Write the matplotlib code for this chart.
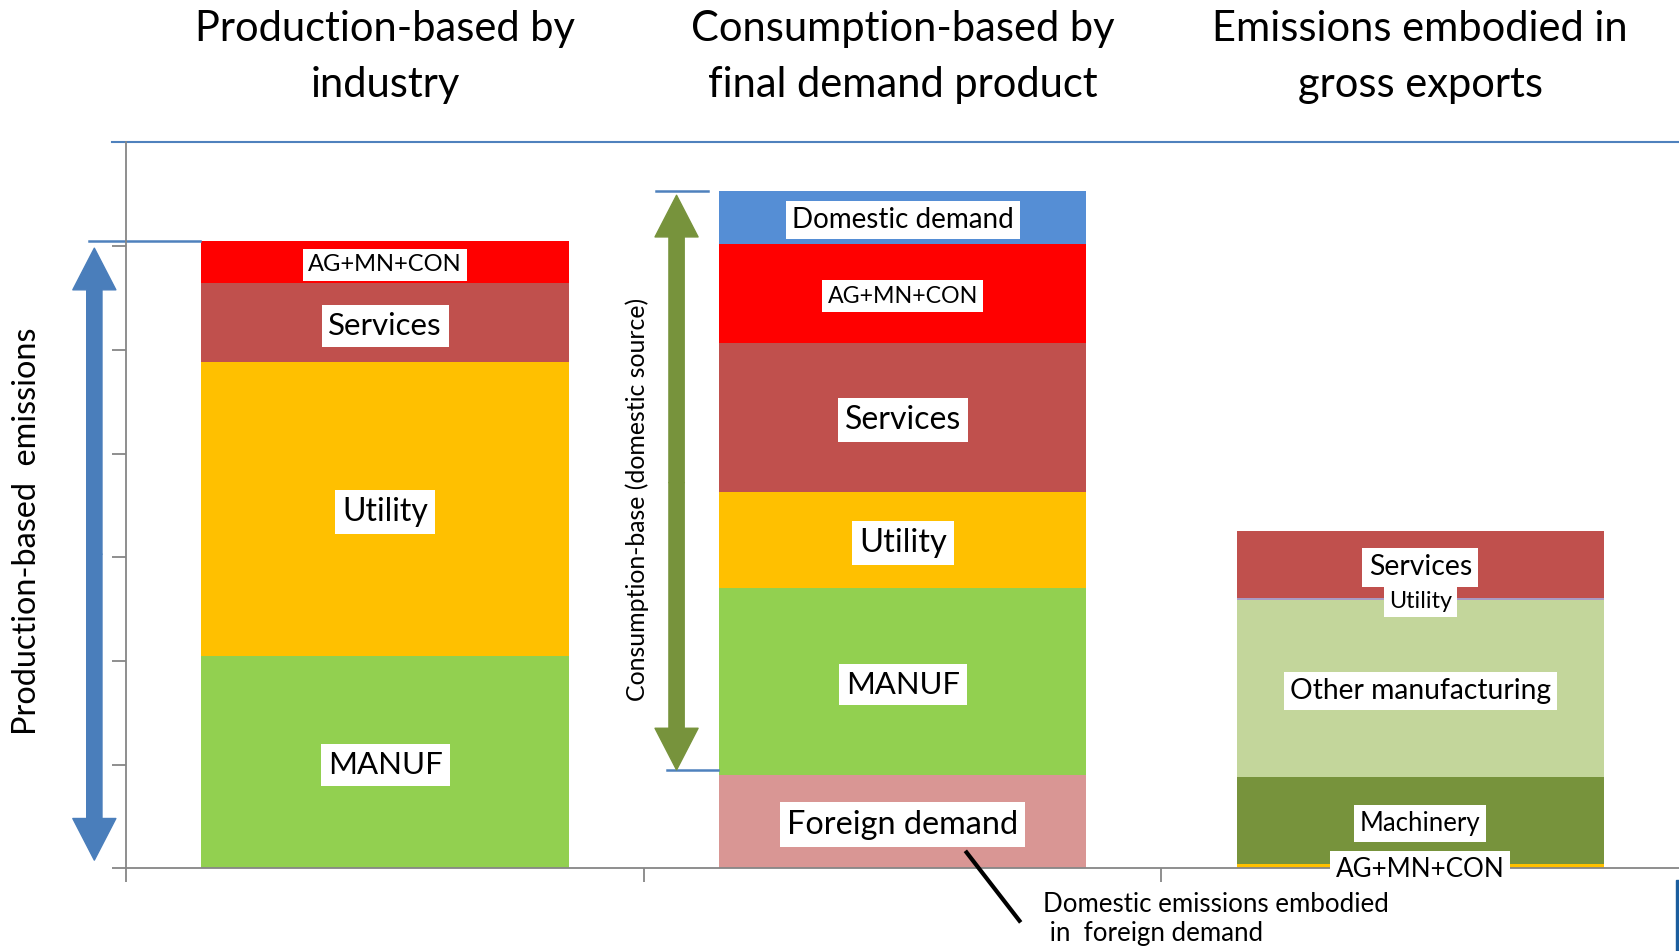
#!/usr/bin/env python3
## stacked emission breakdowns: production, consumption, exports
import matplotlib.pyplot as plt
import matplotlib.transforms as mtransforms
from matplotlib.patches import FancyArrowPatch, ArrowStyle, Rectangle

plt.rcParams['font.family'] = ['Lato', 'DejaVu Sans']

## data - segment heights listed bottom to top
titles = ['Production-based by\nindustry',
          'Consumption-based by\nfinal demand product',
          'Emissions embodied in\ngross exports']

prod_labels = ['MANUF', 'Utility', 'Services', 'AG+MN+CON']
prod_values = [2.05, 2.83, 0.76, 0.41]

cons_labels = ['Foreign demand', 'MANUF', 'Utility', 'Services', 'AG+MN+CON', 'Domestic demand']
cons_values = [0.90, 1.80, 0.93, 1.44, 0.95, 0.51]

exp_labels = ['AG+MN+CON', 'Machinery', 'Other manufacturing', 'Utility', 'Services']
exp_values = [0.04, 0.84, 1.71, 0.02, 0.64]

## styles
prod_colors = ['#92D050', '#FFC000', '#C0504D', '#FF0000']
cons_colors = ['#D99694', '#92D050', '#FFC000', '#C0504D', '#FF0000', '#558ED5']
exp_colors = ['#FFC000', '#77933C', '#C3D69B', '#A99BC4', '#C0504D']
prod_fs = [22.5, 23, 22.5, 17]
cons_fs = [23.3, 22.3, 23.5, 23, 16.7, 20]
exp_fs = [18.7, 18.5, 20.3, 16.8, 20.4]

AXGREY = '#868686'
LINEBLUE = '#4F81BD'
BARW = 0.71


def drawstack(ax, x, labels, values, colors, sizes):
    bottom = 0
    for lab, v, c, fs in zip(labels, values, colors, sizes):
        ax.bar(x, v, BARW, bottom=bottom, color=c, linewidth=0)
        # labels sit a touch under the segment middle
        ax.annotate(lab, (x, bottom + v / 2), xytext=(0, -2), textcoords='offset points',
                    ha='center', va='center', fontsize=fs, color='black', zorder=5,
                    bbox=dict(boxstyle='square,pad=0.22', fc='white', ec='none'))
        bottom += v
    return bottom


def dblarrow(ax, x, lo, hi, color):
    mid = (lo + hi) / 2
    style = ArrowStyle.Simple(head_length=30, head_width=31, tail_width=11)
    for end in (lo, hi):
        ax.add_patch(FancyArrowPatch((x, mid), (x, end), arrowstyle=style,
                                     color=color, shrinkA=0, shrinkB=0,
                                     clip_on=False, zorder=4))


def main():
    fig = plt.figure(figsize=(16.79, 9.51), dpi=100)
    ax = fig.add_axes([0.0753, 0.0868, 0.9247, 0.7635])

    tot1 = drawstack(ax, 0, prod_labels, prod_values, prod_colors, prod_fs)
    tot2 = drawstack(ax, 1, cons_labels, cons_values, cons_colors, cons_fs)
    drawstack(ax, 2, exp_labels, exp_values, exp_colors, exp_fs)

    ax.set_xlim(-0.5, 2.5)
    ax.set_ylim(0, 7)
    ax.set_xticks([-0.5, 0.5, 1.5])
    ax.set_yticks(range(8))
    ax.set_xticklabels([])
    ax.set_yticklabels([])
    ax.tick_params(axis='both', direction='out', length=10, width=1.3, color=AXGREY)
    for s in ['top', 'right']:
        ax.spines[s].set_visible(False)
    for s in ['left', 'bottom']:
        ax.spines[s].set_color(AXGREY)
        ax.spines[s].set_linewidth(1.3)

    # blue rule across the top of the plot area
    ax.plot([-0.009, 1], [1, 1], color=LINEBLUE, lw=1.5, transform=ax.transAxes, clip_on=False)

    # reference ticks beside the arrows
    fd = cons_values[0]
    ax.plot([-0.573, -0.357], [tot1, tot1], color=LINEBLUE, lw=1.8, clip_on=False)
    ax.plot([0.524, 0.623], [tot2, tot2], color=LINEBLUE, lw=1.8, clip_on=False)
    ax.plot([0.545, 0.644], [fd + 0.05, fd + 0.05], color=LINEBLUE, lw=1.8, clip_on=False)

    dblarrow(ax, -0.562, 0.08, tot1 - 0.07, '#4A7EBB')
    dblarrow(ax, 0.563, fd + 0.05, tot2 - 0.04, '#77933C')

    ax.text(0.487, 3.56, 'Consumption-base (domestic source)', rotation=90,
            ha='center', va='center', fontsize=17.9)
    fig.text(0.016, 0.441, 'Production-based  emissions', rotation=90,
             ha='center', va='center', fontsize=23.3)

    # column headings
    trans = mtransforms.blended_transform_factory(ax.transData, fig.transFigure)
    for i, t in enumerate(titles):
        ax.text(i, 0.940, t, transform=trans, ha='center', va='center',
                fontsize=30, linespacing=1.6)

    # leader for foreign demand
    ax.plot([1.121, 1.228], [0.17, -0.52], color='black', lw=3, clip_on=False,
            solid_capstyle='butt', zorder=6)
    ax.text(1.272, -0.485, 'Domestic emissions embodied\n in  foreign demand',
            ha='left', va='center', fontsize=18.6, linespacing=1.22)

    fig.patches.append(Rectangle((1676 / 1679, 0), 3 / 1679, 71 / 951,
                                 transform=fig.transFigure, color='#1B5E9E'))

    fig.savefig('out.png', dpi=100)


if __name__ == '__main__':
    main()
